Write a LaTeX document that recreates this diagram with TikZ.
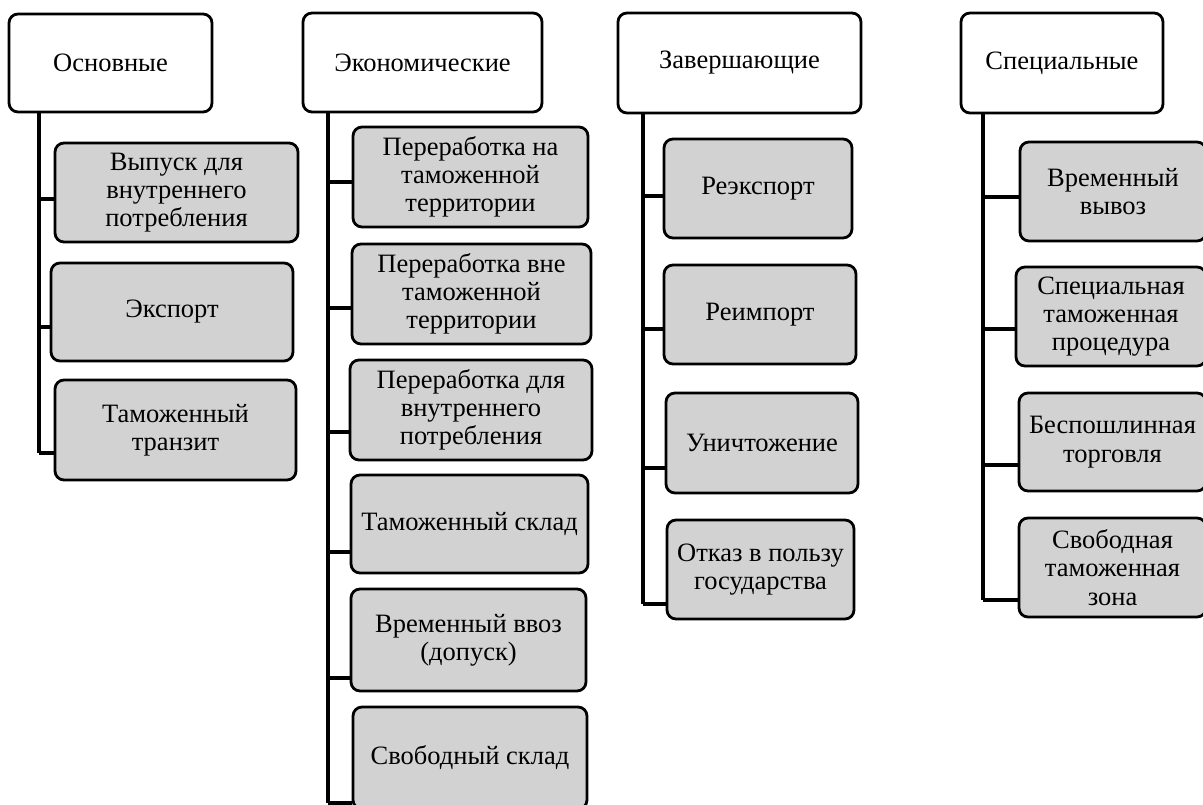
\documentclass[tikz,border=0pt]{standalone}
\usepackage{fontspec}
\setmainfont{Liberation Serif}
\definecolor{boxgray}{HTML}{D2D2D2}
\tikzset{
  base/.style={draw=black, line width=2.8pt, rounded corners=9pt, align=center, inner sep=0pt,
    font=\fontsize{26.5}{28.3}\selectfont},
  headbox/.style={base, fill=white},
  childbox/.style={base, fill=boxgray},
  conn/.style={draw=black, line width=3.2pt},
}
\newcommand\bx[7]{\node[#7, minimum width={#4-#2}, minimum height={#5-#3}] (#1) at ({(#2+#4)/2},{(#3+#5)/2}) {#6};}
\begin{document}
\begin{tikzpicture}[x=1pt,y=-1pt]
\useasboundingbox (0,0) rectangle (1203,805);
\clip (0,0) rectangle (1203,805);
\fill[white] (0,0) rectangle (1203,805);
% Column 1
\bx{h1}{9}{14}{212}{112}{Основные}{headbox}
\bx{a1}{55}{143}{298}{242}{Выпуск для\\внутреннего\\потребления}{childbox}
\bx{a2}{51}{263}{293}{361}{Экспорт}{childbox}
\bx{a3}{55}{380}{296}{480}{Таможенный\\транзит}{childbox}
\coordinate (ta1) at (39,199);
\coordinate (ta2) at (39,327);
\coordinate (ta3) at (39,453);
\draw[conn] (h1.south -| ta1) -- (ta3);
\draw[conn] (ta1) -- (ta1 -| a1.west);
\draw[conn] (ta2) -- (ta2 -| a2.west);
\draw[conn] (ta3) -- (ta3 -| a3.west);
% Column 2
\bx{h2}{303}{13}{542}{112}{Экономические}{headbox}
\bx{b1}{353}{127}{588}{227}{Переработка на\\таможенной\\территории}{childbox}
\bx{b2}{352}{244}{591}{344}{Переработка вне\\таможенной\\территории}{childbox}
\bx{b3}{350}{360}{592}{460}{Переработка для\\внутреннего\\потребления}{childbox}
\bx{b4}{351}{475}{588}{573}{Таможенный склад}{childbox}
\bx{b5}{351}{589}{586}{691}{Временный ввоз\\(допуск)}{childbox}
\bx{b6}{353}{707}{587}{809}{Свободный склад}{childbox}
\coordinate (tb1) at (328,182);
\coordinate (tb2) at (328,308);
\coordinate (tb3) at (328,432);
\coordinate (tb4) at (328,552);
\coordinate (tb5) at (328,678);
\coordinate (tb6) at (328,803);
\draw[conn] (h2.south -| tb1) -- (tb6);
\draw[conn] (tb1) -- (tb1 -| b1.west);
\draw[conn] (tb2) -- (tb2 -| b2.west);
\draw[conn] (tb3) -- (tb3 -| b3.west);
\draw[conn] (tb4) -- (tb4 -| b4.west);
\draw[conn] (tb5) -- (tb5 -| b5.west);
\draw[conn] (tb6) -- (tb6 -| b6.west);
% Column 3
\bx{h3}{618}{13}{861}{113}{Завершающие}{headbox}
\bx{c1}{664}{139}{852}{238}{Реэкспорт}{childbox}
\bx{c2}{664}{265}{856}{364}{Реимпорт}{childbox}
\bx{c3}{666}{393}{858}{493}{Уничтожение}{childbox}
\bx{c4}{667}{520}{854}{619}{Отказ в пользу\\государства}{childbox}
\coordinate (tc1) at (643,196);
\coordinate (tc2) at (643,329);
\coordinate (tc3) at (643,468);
\coordinate (tc4) at (643,604);
\draw[conn] (h3.south -| tc1) -- (tc4);
\draw[conn] (tc1) -- (tc1 -| c1.west);
\draw[conn] (tc2) -- (tc2 -| c2.west);
\draw[conn] (tc3) -- (tc3 -| c3.west);
\draw[conn] (tc4) -- (tc4 -| c4.west);
% Column 4
\bx{h4}{961}{13}{1163}{113}{Специальные}{headbox}
\bx{d1}{1020}{142}{1206}{241}{Временный\\вывоз}{childbox}
\bx{d2}{1016}{267}{1206}{366}{Специальная\\таможенная\\процедура}{childbox}
\bx{d3}{1019}{393}{1206}{491}{Беспошлинная\\торговля}{childbox}
\bx{d4}{1019}{518}{1206}{617}{Свободная\\таможенная\\зона}{childbox}
\coordinate (td1) at (983,197);
\coordinate (td2) at (983,329);
\coordinate (td3) at (983,465);
\coordinate (td4) at (983,600);
\draw[conn] (h4.south -| td1) -- (td4);
\draw[conn] (td1) -- (td1 -| d1.west);
\draw[conn] (td2) -- (td2 -| d2.west);
\draw[conn] (td3) -- (td3 -| d3.west);
\draw[conn] (td4) -- (td4 -| d4.west);
\end{tikzpicture}
\end{document}
